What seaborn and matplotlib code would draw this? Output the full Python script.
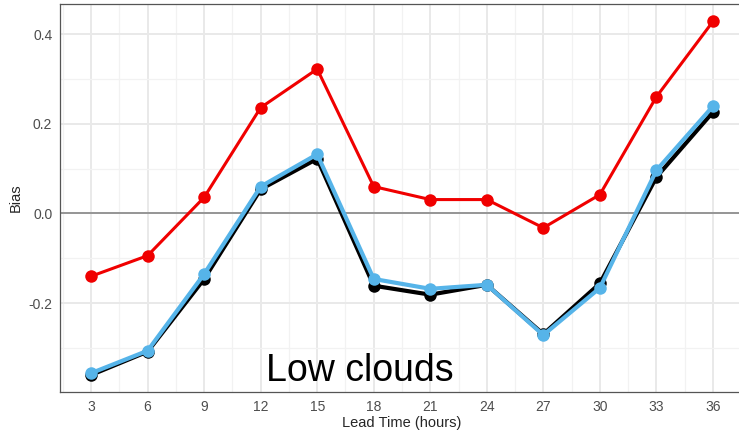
import numpy as np
import pandas as pd
import seaborn as sns
import matplotlib.pyplot as plt
from matplotlib.ticker import MultipleLocator

# ---- data ----
lead_time = [3, 6, 9, 12, 15, 18, 21, 24, 27, 30, 33, 36]
bias_red = [-0.140, -0.094, 0.036, 0.236, 0.322, 0.060, 0.031, 0.031, -0.032, 0.042, 0.260, 0.428]
bias_black = [-0.360, -0.308, -0.146, 0.054, 0.122, -0.161, -0.181, -0.159, -0.269, -0.156, 0.081, 0.226]
bias_blue = [-0.356, -0.306, -0.135, 0.060, 0.132, -0.146, -0.168, -0.159, -0.271, -0.166, 0.096, 0.239]

df = pd.DataFrame({
    'lead': lead_time * 3,
    'bias': bias_red + bias_black + bias_blue,
    'model': ['red'] * 12 + ['black'] * 12 + ['blue'] * 12,
})

sns.set_style("white")
plt.rcParams['font.family'] = ['Liberation Sans', 'DejaVu Sans']

fig = plt.figure(figsize=(7.39, 4.33), dpi=100)
ax = fig.add_axes([60 / 739, 41 / 433, 684 / 739, 388 / 433])

styles = {'red': ('#f00000', 2.2), 'black': ('black', 3.0), 'blue': ('#56B4E9', 3.0)}
ax.axhline(0, color='#7f7f7f', lw=1.1, zorder=1.5)
for name, (col, lw) in styles.items():
    sns.lineplot(data=df[df['model'] == name], x='lead', y='bias', color=col,
                 linewidth=lw, marker='o', markersize=9, markeredgewidth=0,
                 ax=ax, zorder=3)

ax.set_xlim(1.35, 37.65)
ax.set_ylim(-0.398, 0.467)
ax.set_xticks(lead_time)
ax.xaxis.set_minor_locator(MultipleLocator(1.5))
ax.set_yticks([-0.2, 0.0, 0.2, 0.4])
ax.set_yticklabels(["-0.2", "0.0", "0.2", "0.4"])
ax.yaxis.set_minor_locator(MultipleLocator(0.1))

ax.grid(True, which='major', color='#e9e9e9', lw=1.4, zorder=0)
ax.grid(True, which='minor', color='#f2f2f2', lw=0.9, zorder=0)
ax.set_axisbelow(True)
for s in ax.spines.values():
    s.set_color('#555555')
    s.set_linewidth(0.9)

ax.tick_params(axis='both', which='major', length=3.5, width=0.8, color='#555555',
               labelsize=10, labelcolor='#4d4d4d', pad=2)
ax.tick_params(axis='both', which='minor', length=0)

ax.set_xlabel("Lead Time (hours)", fontsize=10.5, labelpad=2)
ax.set_ylabel("Bias", fontsize=10.5, labelpad=4)

ax.text(17.25, -0.352, "Low clouds", fontsize=27, ha='center', va='center', color='black')

plt.savefig("out.png", dpi=100)
